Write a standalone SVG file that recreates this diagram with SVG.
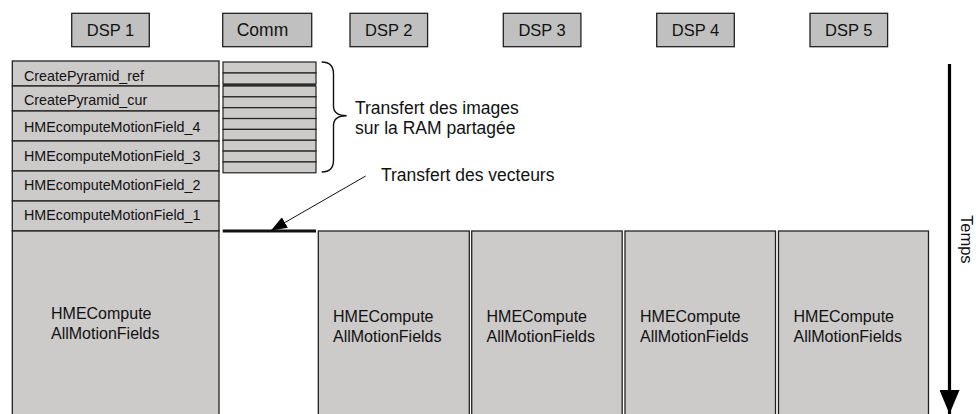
<svg xmlns="http://www.w3.org/2000/svg" width="976" height="414" viewBox="0 0 976 414">
<style>
.hdr{fill:#c0c0c0;stroke:#222;stroke-width:1.3}
.box{fill:#cdcaca;stroke:#222;stroke-width:1.3}
.sm{fill:#cdcaca;stroke:#222;stroke-width:1.2}
text{font-family:"Liberation Sans",Arial,sans-serif;fill:#111}
.h{font-size:16.5px}
.r{font-size:14.3px}
.b{font-size:16px}
.l{font-size:17.5px}
</style>
<defs>
<marker id="ah" markerWidth="16" markerHeight="12" refX="16" refY="6" orient="auto" markerUnits="userSpaceOnUse">
<path d="M0,0 L16,6 L0,12 Z" fill="#000"/>
</marker>
<marker id="ah2" markerWidth="24" markerHeight="20" refX="24" refY="10" orient="auto" markerUnits="userSpaceOnUse">
<path d="M0,0 L24,10 L0,20 Z" fill="#000"/>
</marker>
</defs>
<g id="headers">
<g id="h-dsp1"><rect class="hdr" x="71.7" y="13.3" width="77.6" height="33.4"/><text class="h" x="110.5" y="35.7" text-anchor="middle">DSP 1</text></g>
<g id="h-comm"><rect class="hdr" x="222.7" y="13.3" width="89" height="33.4"/><text class="h" x="262.5" y="35.7" text-anchor="middle" style="font-size:17.5px">Comm</text></g>
<g id="h-dsp2"><rect class="hdr" x="350" y="13.3" width="77.6" height="33.4"/><text class="h" x="388.8" y="35.7" text-anchor="middle">DSP 2</text></g>
<g id="h-dsp3"><rect class="hdr" x="503.3" y="13.3" width="77.6" height="33.4"/><text class="h" x="542.1" y="35.7" text-anchor="middle">DSP 3</text></g>
<g id="h-dsp4"><rect class="hdr" x="656.7" y="13.3" width="77.6" height="33.4"/><text class="h" x="695.5" y="35.7" text-anchor="middle">DSP 4</text></g>
<g id="h-dsp5"><rect class="hdr" x="810" y="13.3" width="77.6" height="33.4"/><text class="h" x="848.8" y="35.7" text-anchor="middle">DSP 5</text></g>
</g>
<g id="dsp1-tasks">
<g id="t-ref"><rect class="box" x="12.3" y="61" width="206.7" height="25"/><text class="r" x="24" y="81">CreatePyramid_ref</text></g>
<g id="t-cur"><rect class="box" x="12.3" y="86" width="206.7" height="25"/><text class="r" x="24" y="104.5">CreatePyramid_cur</text></g>
<g id="t-hme4"><rect class="box" x="12.3" y="111" width="206.7" height="30"/><text class="r" x="24" y="132">HMEcomputeMotionField_4</text></g>
<g id="t-hme3"><rect class="box" x="12.3" y="141" width="206.7" height="30"/><text class="r" x="24" y="161">HMEcomputeMotionField_3</text></g>
<g id="t-hme2"><rect class="box" x="12.3" y="171" width="206.7" height="30"/><text class="r" x="24" y="190">HMEcomputeMotionField_2</text></g>
<g id="t-hme1"><rect class="box" x="12.3" y="201" width="206.7" height="30"/><text class="r" x="24" y="220">HMEcomputeMotionField_1</text></g>
<g id="t-all1"><rect class="box" x="12.3" y="231" width="206.7" height="200"/><text class="b" x="51" y="319">HMECompute</text><text class="b" x="51" y="339">AllMotionFields</text></g>
</g>
<g id="comm-transfers">
<rect class="sm" x="223" y="62" width="93" height="11"/>
<rect class="sm" x="223" y="73" width="93" height="11"/>
<rect class="sm" x="223" y="86" width="93" height="10.85"/>
<rect class="sm" x="223" y="96.85" width="93" height="10.85"/>
<rect class="sm" x="223" y="107.7" width="93" height="10.85"/>
<rect class="sm" x="223" y="118.55" width="93" height="10.85"/>
<rect class="sm" x="223" y="129.4" width="93" height="10.85"/>
<rect class="sm" x="223" y="140.25" width="93" height="10.85"/>
<rect class="sm" x="223" y="151.1" width="93" height="10.85"/>
<rect class="sm" x="223" y="161.95" width="93" height="10.85"/>
<line x1="222.7" y1="85" x2="316" y2="85" stroke="#111" stroke-width="1.5"/>
</g>
<g id="dsp-compute">
<g id="t-all2"><rect class="box" x="318.3" y="231" width="151" height="200"/><text class="b" x="333" y="322">HMECompute</text><text class="b" x="333" y="342">AllMotionFields</text></g>
<g id="t-all3"><rect class="box" x="471.7" y="231" width="150.5" height="200"/><text class="b" x="486.5" y="322">HMECompute</text><text class="b" x="486.5" y="342">AllMotionFields</text></g>
<g id="t-all4"><rect class="box" x="625" y="231" width="150.5" height="200"/><text class="b" x="640" y="322">HMECompute</text><text class="b" x="640" y="342">AllMotionFields</text></g>
<g id="t-all5"><rect class="box" x="778.5" y="231" width="150" height="200"/><text class="b" x="793.5" y="322">HMECompute</text><text class="b" x="793.5" y="342">AllMotionFields</text></g>
</g>
<g id="connectors">
<line x1="222.7" y1="231" x2="316" y2="231" stroke="#111" stroke-width="2.8"/>
<line x1="365.7" y1="176" x2="271" y2="230.5" stroke="#111" stroke-width="1" marker-end="url(#ah)"/>
<path d="M321.7,62 Q333.5,62 333.5,74 L333.5,106 Q333.5,115.7 346.7,115.7 Q333.5,115.7 333.5,125.5 L333.5,160 Q333.5,172 321.7,172" fill="none" stroke="#111" stroke-width="1.4"/>
<line x1="949.5" y1="64" x2="949.5" y2="414" stroke="#000" stroke-width="3.2" marker-end="url(#ah2)"/>
</g>
<g id="labels">
<text class="l" x="355" y="114">Transfert des images</text>
<text class="l" x="355" y="134">sur la RAM partagée</text>
<text class="l" x="381" y="180.5">Transfert des vecteurs</text>
<text class="h" transform="translate(961,215) rotate(90)">Temps</text>
</g>
</svg>
